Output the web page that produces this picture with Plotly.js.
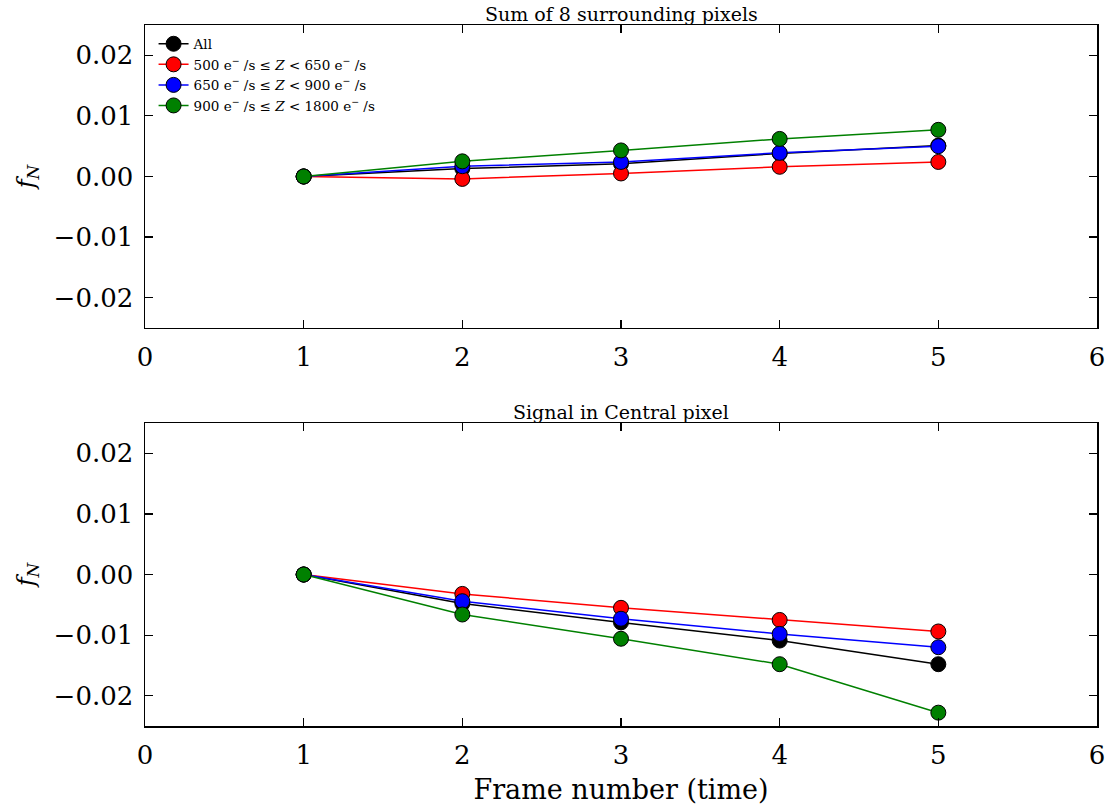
<!DOCTYPE html>
<html>
<head>
<meta charset="utf-8">
<script src="https://cdn.plot.ly/plotly-3.0.1.min.js"></script>
<style>
  html, body { margin: 0; padding: 0; background: #fff; }
  #chart { width: 1115px; height: 811px; }
</style>
</head>
<body>
<div id="chart"></div>
<script>
// Frame numbers
const frames = [1, 2, 3, 4, 5];

// Series names and colours
const seriesNames = [
  'All',
  '500 e<sup>−</sup> /s ≤ <i>Z</i> &lt; 650 e<sup>−</sup> /s',
  '650 e<sup>−</sup> /s ≤ <i>Z</i> &lt; 900 e<sup>−</sup> /s',
  '900 e<sup>−</sup> /s ≤ <i>Z</i> &lt; 1800 e<sup>−</sup> /s'
];
const seriesColors = ['#000000', '#ff0000', '#0000ff', '#008000'];

// f_N, sum of the 8 surrounding pixels
const surroundAll  = [0, 0.0013, 0.0021, 0.0038, 0.0051];
const surroundLow  = [0, -0.0004, 0.0005, 0.0016, 0.0024];
const surroundMid  = [0, 0.0017, 0.0024, 0.0039, 0.0050];
const surroundHigh = [0, 0.0025, 0.0043, 0.0062, 0.0077];

// f_N, signal in the central pixel
const centralAll  = [0, -0.0048, -0.0079, -0.0109, -0.0148];
const centralLow  = [0, -0.0032, -0.0055, -0.0075, -0.0094];
const centralMid  = [0, -0.0044, -0.0073, -0.0098, -0.0120];
const centralHigh = [0, -0.0066, -0.0106, -0.0148, -0.0228];

// Axis ticks
const xTicks = [0, 1, 2, 3, 4, 5, 6];
const yTicks = [-0.02, -0.01, 0.00, 0.01, 0.02];
const yTickText = ['−0.02', '−0.01', '0.00', '0.01', '0.02'];

const FONT = 'DejaVu Serif, serif';

const topSets = [surroundAll, surroundLow, surroundMid, surroundHigh];
const botSets = [centralAll, centralLow, centralMid, centralHigh];

const traces = [];
function addPanel(sets, xa, ya, showLegend) {
  sets.forEach((ys, i) => {
    traces.push({
      x: frames, y: ys, xaxis: xa, yaxis: ya,
      type: 'scatter', mode: 'lines+markers',
      name: seriesNames[i], showlegend: showLegend,
      line: { color: seriesColors[i], width: 1.5 },
      marker: { color: seriesColors[i], size: 15, line: { color: '#000', width: 1 } },
      cliponaxis: false
    });
  });
}
addPanel(topSets, 'x', 'y', true);
addPanel(botSets, 'x2', 'y2', false);

function xAxis(anchor) {
  return {
    anchor: anchor, range: [0, 6], tickvals: xTicks, ticktext: xTicks.map(String),
    showline: true, linecolor: '#000', linewidth: 1.5, mirror: 'ticks',
    ticks: 'inside', ticklen: 8, tickwidth: 1.2, tickcolor: '#000',
    showgrid: false, zeroline: false, ticklabelstandoff: 5,
    tickfont: { family: FONT, size: 26, color: '#000' }
  };
}
function yAxis(anchor, domain) {
  return {
    anchor: anchor, domain: domain, range: [-0.025, 0.025],
    tickvals: yTicks, ticktext: yTickText,
    showline: true, linecolor: '#000', linewidth: 1.5, mirror: 'ticks',
    ticks: 'inside', ticklen: 8, tickwidth: 1.2, tickcolor: '#000',
    showgrid: false, zeroline: false, ticklabelstandoff: 5,
    tickfont: { family: FONT, size: 26, color: '#000' },
    title: { text: '<i>f</i><sub><i>N</i></sub>', font: { family: FONT, size: 24, color: '#000' }, standoff: 12 }
  };
}

const x1 = xAxis('y');
x1.domain = [0, 1];
const x2 = xAxis('y2');
x2.domain = [0, 1];
x2.title = { text: 'Frame number (time)', font: { family: FONT, size: 27, color: '#000' }, standoff: 11 };

const layout = {
  width: 1115, height: 811,
  margin: { l: 145, r: 18, t: 25, b: 85 },
  paper_bgcolor: '#fff', plot_bgcolor: '#fff',
  font: { family: FONT, color: '#000' },
  xaxis: x1,
  yaxis: yAxis('x', [0.5678, 1]),
  xaxis2: x2,
  yaxis2: yAxis('x2', [0, 0.4322]),
  legend: {
    x: 0.009, y: 0.995, xanchor: 'left', yanchor: 'top',
    bgcolor: 'rgba(0,0,0,0)', borderwidth: 0,
    font: { family: FONT, size: 13.5, color: '#000' },
    itemwidth: 30, tracegroupgap: 0
  },
  annotations: [
    { text: 'Sum of 8 surrounding pixels', xref: 'paper', yref: 'paper', x: 0.5, y: 1.0,
      yanchor: 'bottom', yshift: -1, borderpad: 0, showarrow: false,
      font: { family: FONT, size: 19, color: '#000' } },
    { text: 'Signal in Central pixel', xref: 'paper', yref: 'paper', x: 0.5, y: 0.4322,
      yanchor: 'bottom', yshift: -1, borderpad: 0, showarrow: false,
      font: { family: FONT, size: 19, color: '#000' } }
  ],
  showlegend: true
};

Plotly.newPlot('chart', traces, layout, { displayModeBar: false, staticPlot: true });
</script>
</body>
</html>
